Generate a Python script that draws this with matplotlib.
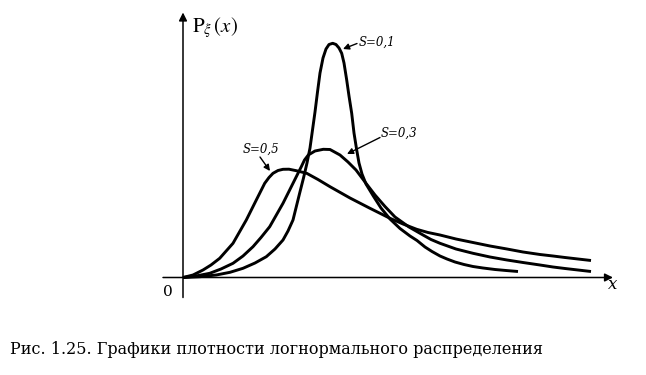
import matplotlib.pyplot as plt

# curves (x, y in picture units from the origin)
s05_x = [0, 10, 20, 28, 36.7, 50, 63.3, 73.3, 81.7, 86, 90, 95, 100, 106, 113.3, 123.7,
         135, 147, 167, 187, 207, 220, 233.7, 245, 257, 273, 290, 307, 324, 340, 357,
         370, 382, 395, 408]
s05_y = [0, 2.5, 7.5, 12.5, 19.2, 34.2, 57.5, 77.5, 94.2, 100, 104.2, 107, 108.2, 108.3,
         106.8, 104.2, 98, 90.8, 79.5, 69.2, 59.2, 53.5, 48.2, 45, 42.5, 38.5, 35, 31.5,
         28.5, 25.5, 23, 21.5, 20, 18.5, 17]

s03_x = [0, 13, 26.7, 38, 50, 60, 70, 78, 86.7, 100, 110, 118.3, 121.5, 125.3, 132,
         140.3, 147, 157, 165, 173, 182, 192, 202, 212, 226, 240, 248, 257, 273, 290,
         307, 324, 340, 357, 370, 382, 395, 408]
s03_y = [0, 1.5, 4.2, 8.5, 14.2, 21.5, 30.8, 40, 50.8, 74.2, 94.2, 110.8, 117.5, 122.5,
         126.5, 128.2, 128, 122.5, 115.5, 107.5, 95.5, 82.5, 71, 60.5, 50.5, 42.5, 38,
         34.2, 28.5, 24.2, 20.5, 17.5, 15, 12.5, 10.5, 9, 7.5, 6]

s01_x = [0, 17, 33.3, 47, 60, 72, 83.3, 92, 100, 105, 110, 116.7, 120.5, 124, 127,
         129.5, 132, 134.5, 137, 140, 143, 146, 149.7, 153, 156, 158.7, 161, 163.7, 166,
         168.7, 171, 173.7, 176, 179, 183, 190.3, 198, 207, 217, 227, 234, 242, 249,
         257, 264, 272, 281, 290, 300, 312, 323, 335]
s01_y = [0, 0.8, 2.5, 5.2, 9.2, 14.5, 20.8, 28.5, 37.5, 46.5, 57.5, 84.5, 99.5, 114.5,
         129.5, 147.5, 165.5, 185.5, 204.5, 219.5, 228.5, 233, 234.2, 233, 229.5, 224.2,
         214.5, 197.5, 181.5, 164.2, 144.5, 127.5, 114.5, 103.5, 93.5, 81.5, 69.5, 58.5,
         49, 41.5, 37, 30.5, 26, 21.5, 18.5, 15.5, 13, 11, 9.5, 8, 7, 6]

curve_labels = ['S=0,1', 'S=0,3', 'S=0,5']

fig = plt.figure(figsize=(6.46, 3.75), dpi=100)
ax = fig.add_axes([0, 0, 1, 1])
ax.set_xlim(-183, 463)
ax.set_ylim(-97.5, 277.5)
ax.axis('off')

# curves
for xs, ys in [(s05_x, s05_y), (s03_x, s03_y), (s01_x, s01_y)]:
    ax.plot(xs, ys, color='black', lw=2.1, solid_capstyle='butt',
            solid_joinstyle='round')

# axes with arrows
ax.annotate('', xy=(430, 0), xytext=(-20, 0),
            arrowprops=dict(arrowstyle='-|>', color='black', lw=1.1,
                            mutation_scale=12, shrinkA=0, shrinkB=0))
ax.annotate('', xy=(0, 265), xytext=(0, -20),
            arrowprops=dict(arrowstyle='-|>', color='black', lw=1.1,
                            mutation_scale=12, shrinkA=0, shrinkB=0))

ax.text(-15, -14, '0', fontsize=11, family='DejaVu Serif', ha='center', va='center')
ax.text(430, -7, 'x', fontsize=12, family='DejaVu Serif', style='italic',
        ha='center', va='center')
ax.text(9, 250, r'$\mathrm{P}_{\xi}\,(x)$', fontsize=15, ha='left', va='center',
        math_fontfamily='stix')

# curve labels with pointers
lab_kw = dict(fontsize=8.5, family='DejaVu Serif', style='italic', va='center', ha='left')
arr = dict(arrowstyle='-|>', color='black', lw=1.0, mutation_scale=9, shrinkA=0, shrinkB=0)
ax.text(176, 235.5, curve_labels[0], **lab_kw)
ax.annotate('', xy=(160, 228.5), xytext=(174, 234), arrowprops=arr)
ax.text(198, 144.5, curve_labels[1], **lab_kw)
ax.annotate('', xy=(164, 123.5), xytext=(197, 140), arrowprops=arr)
ax.text(60, 128.5, curve_labels[2], **lab_kw)
ax.annotate('', xy=(87, 106.5), xytext=(77, 120.5), arrowprops=arr)

# caption
ax.text(-173, -72.5, 'Рис. 1.25. Графики плотности логнормального распределения',
        fontsize=11.5, family='DejaVu Serif', ha='left', va='center')

fig.savefig('out.png', dpi=100)
